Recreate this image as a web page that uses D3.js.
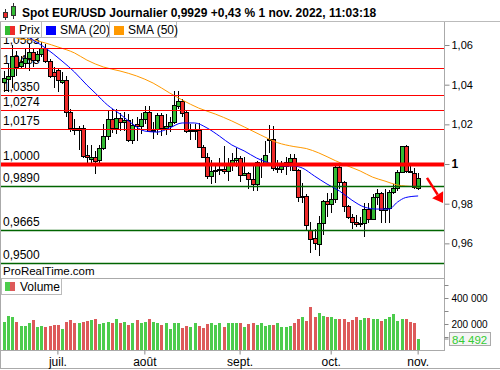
<!DOCTYPE html>
<meta charset="utf-8">
<style>
body { margin: 0; background: #fff; }
svg { display: block; font-family: "Liberation Sans", Arial, sans-serif; }
.lvl { font-size: 12px; fill: #000; }
.priceAxis text { font-size: 11px; fill: #000; }
.volAxis text { font-size: 10px; fill: #000; }
.timeAxis text { font-size: 12px; fill: #000; }
.priceAxis line, .volAxis line, .timeAxis line { stroke: #888; }
</style>
<body>

<script src="https://d3js.org/d3.v7.min.js"></script>
<script>

// daily EUR/USD candles, 14 juin -> 1 nov. 2022 (one value per trading day)
var open  = [1.0412,1.0432,1.0445,1.0545,1.0492,1.0512,1.0535,1.0566,1.0525,1.0555,
             1.0585,1.0520,1.0465,1.0475,1.0415,1.0425,1.0262,1.0180,1.0168,1.0180,
             1.0043,1.0028,1.0036,1.0018,1.0080,1.0140,1.0225,1.0180,1.0230,1.0212,
             1.0220,1.0120,1.0200,1.0192,1.0225,1.0260,1.0165,1.0172,1.0245,1.0180,
             1.0192,1.0210,1.0297,1.0320,1.0262,1.0165,1.0170,1.0174,1.0087,1.0037,
             0.9940,0.9966,0.9970,0.9974,0.9965,1.0003,1.0018,1.0030,0.9945,0.9955,
             0.9925,0.9900,0.9995,1.0002,1.0118,1.0124,0.9976,0.9978,0.9992,1.0012,
             1.0030,0.9970,0.9835,0.9838,0.9668,0.9625,0.9598,0.9702,0.9815,0.9800,
             0.9825,0.9985,0.9910,0.9790,0.9735,0.9710,0.9698,0.9703,0.9775,0.9725,
             0.9835,0.9855,0.9770,0.9778,0.9860,0.9880,0.9960,1.0090,0.9965,0.9955,
             0.9880];
var high  = [1.0468,1.0505,1.0601,1.0570,1.0545,1.0583,1.0606,1.0585,1.0570,1.0615,
             1.0605,1.0530,1.0488,1.0486,1.0462,1.0445,1.0276,1.0225,1.0190,1.0195,
             1.0096,1.0094,1.0068,1.0095,1.0200,1.0270,1.0275,1.0278,1.0255,1.0260,
             1.0250,1.0225,1.0235,1.0255,1.0295,1.0295,1.0210,1.0255,1.0255,1.0250,
             1.0235,1.0370,1.0368,1.0330,1.0270,1.0200,1.0202,1.0205,1.0095,1.0055,
             1.0020,0.9995,1.0030,1.0090,1.0030,1.0055,1.0080,1.0040,1.0035,0.9958,
             0.9990,1.0015,1.0030,1.0115,1.0198,1.0190,1.0020,1.0015,1.0035,1.0050,
             1.0050,0.9975,0.9905,0.9850,0.9710,0.9670,0.9740,0.9820,0.9855,0.9855,
             0.9999,0.9999,0.9912,0.9795,0.9750,0.9745,0.9735,0.9805,0.9805,0.9850,
             0.9875,0.9860,0.9875,0.9870,0.9900,0.9970,1.0093,1.0095,1.0000,0.9980,
             0.9955];
var low   = [1.0362,1.0365,1.0382,1.0445,1.0478,1.0478,1.0470,1.0490,1.0512,1.0542,
             1.0510,1.0435,1.0385,1.0365,1.0402,1.0235,1.0160,1.0145,1.0072,1.0032,
             0.9998,0.9999,0.9952,1.0005,1.0070,1.0120,1.0155,1.0152,1.0165,1.0165,
             1.0110,1.0100,1.0115,1.0150,1.0200,1.0160,1.0125,1.0145,1.0140,1.0145,
             1.0160,1.0200,1.0275,1.0235,1.0155,1.0120,1.0122,1.0085,1.0030,0.9926,
             0.9900,0.9905,0.9945,0.9950,0.9915,0.9965,0.9985,0.9910,0.9940,0.9875,
             0.9865,0.9865,0.9930,0.9995,1.0055,0.9965,0.9955,0.9955,0.9945,0.9965,
             0.9965,0.9810,0.9805,0.9665,0.9550,0.9565,0.9535,0.9640,0.9735,0.9755,
             0.9805,0.9875,0.9760,0.9725,0.9670,0.9685,0.9685,0.9630,0.9705,0.9720,
             0.9795,0.9705,0.9705,0.9705,0.9850,0.9865,0.9955,0.9955,0.9955,0.9872,
             0.9870];
var close = [1.0432,1.0445,1.0545,1.0492,1.0512,1.0535,1.0566,1.0525,1.0555,1.0585,
             1.0520,1.0442,1.0445,1.0425,1.0425,1.0262,1.0180,1.0168,1.0180,1.0040,
             1.0032,1.0036,1.0018,1.0080,1.0140,1.0225,1.0180,1.0230,1.0212,1.0220,
             1.0120,1.0195,1.0192,1.0225,1.0260,1.0165,1.0172,1.0245,1.0180,1.0192,
             1.0210,1.0297,1.0320,1.0262,1.0165,1.0170,1.0174,1.0087,1.0037,0.9940,
             0.9966,0.9970,0.9974,0.9965,1.0003,1.0018,1.0030,0.9945,0.9955,0.9925,
             0.9900,1.0010,1.0002,1.0045,1.0124,0.9980,0.9980,0.9992,1.0012,1.0030,
             0.9970,0.9835,0.9838,0.9690,0.9625,0.9598,0.9702,0.9815,0.9800,0.9825,
             0.9985,0.9910,0.9790,0.9735,0.9710,0.9700,0.9703,0.9775,0.9725,0.9835,
             0.9855,0.9770,0.9778,0.9860,0.9880,0.9960,1.0090,0.9962,0.9960,0.9885,
             0.9929];
var volume = [218000,261000,254000,215000,185000,185000,210000,231000,177000,185000,
              177000,185000,192000,192000,162000,215000,231000,210000,210000,215000,
              223000,231000,238000,203000,210000,215000,210000,238000,208000,215000,
              196000,210000,231000,210000,215000,238000,215000,204000,190000,204000,
              162000,204000,204000,172000,185000,177000,204000,185000,172000,203000,
              208000,196000,204000,177000,208000,208000,208000,204000,177000,200000,
              210000,192000,204000,185000,192000,192000,204000,177000,177000,185000,
              208000,238000,254000,223000,331000,254000,285000,261000,254000,254000,
              238000,238000,238000,215000,231000,254000,231000,246000,246000,238000,
              238000,223000,238000,254000,277000,223000,238000,238000,215000,209000,
              84492];

// moving averages (candle index, value)
var sma20Idx = [0,4,7,10,14,17,20,22,25,28,31,34,37,40,43,46,49,52,55,58,61,64,67,70,72,75,78,81,84,87,90,93,95,97,100];
var sma20    = [1.0701,1.0661,1.0625,1.0585,1.0519,1.0464,1.0398,1.0358,1.0297,1.0252,1.0202,1.0166,1.0161,1.0182,1.0207,1.0207,
                1.0182,1.0141,1.0096,1.0066,1.0030,1.0005,0.9990,0.9990,0.9980,0.9939,0.9899,0.9864,0.9818,0.9783,0.9773,0.9773,
                0.9808,0.9831,0.9839];
var sma50Idx = [0,4,7,10,13,17,20,24,28,32,36,40,43,47,51,55,58,62,66,70,73,76,80,83,86,89,92,95,97,100];
var sma50    = [1.0656,1.0630,1.0625,1.0610,1.0590,1.0560,1.0524,1.0489,1.0469,1.0444,1.0408,1.0358,1.0323,1.0282,1.0252,
                1.0217,1.0187,1.0146,1.0108,1.0088,1.0078,1.0056,1.0017,0.9990,0.9965,0.9934,0.9914,0.9894,0.9889,0.9884];

// horizontal levels
var resistances = [1.0583, 1.0483, 1.0350, 1.0274, 1.0175];
var pivot = 1.0000;
var supports = [0.9890, 0.9665, 0.9500];

var priceTicks = [0.96, 0.98, 1, 1.02, 1.04, 1.06];
var volTicks = [100000, 200000, 300000, 400000, 500000];
var volLabels = [200000, 400000];
var monthNames = ["janv.","févr.","mars","avr.","mai","juin","juil.","août","sept.","oct.","nov.","déc."];
var titleText = "Spot EUR/USD Journalier 0,9929 +0,43 % 1 nov. 2022, 11:03:18";

var green = "#33bb33", red = "#ee2a2a";
var volGreen = "#4ccc4c", volRed = "#dd5a5a";

// trading days (categories)
var fmtKey = d3.timeFormat("%Y-%m-%d");
var days = d3.timeDay.range(new Date(2022, 5, 14), new Date(2022, 10, 2))
    .filter(function(d) { return d.getDay() !== 0 && d.getDay() !== 6; });
var keys = days.map(fmtKey);

var data = keys.map(function(k, i) {
  return {key: k, date: days[i], o: open[i], h: high[i], l: low[i], c: close[i], v: volume[i]};
});

// layout
var axisX = 444.5,
    priceTop = 22, priceBottom = 278.5,
    volBottom = 350.5;

var x = d3.scaleBand().domain(keys).range([2, 420.2]);
var bw = x.bandwidth();
function cx(k) { return Math.round(x(k) + bw / 2); }

var y = d3.scaleLinear().domain([0.95, 1.06]).range([263.2, 45]);
var yVol = d3.scaleLinear().domain([0, 500000]).range([350, 285]);

var svg = d3.select("body").append("svg")
    .attr("width", 500)
    .attr("height", 370);

svg.append("defs").append("clipPath").attr("id", "plotClip")
  .append("rect").attr("x", 1).attr("y", priceTop).attr("width", axisX - 1).attr("height", priceBottom - priceTop);

// ---- title bar
var icon = svg.append("g").attr("shape-rendering", "crispEdges");
icon.append("line").attr("x1", 5.5).attr("x2", 5.5).attr("y1", 9).attr("y2", 20).attr("stroke", "#333");
icon.append("rect").attr("x", 3.5).attr("y", 12.5).attr("width", 4).attr("height", 5).attr("fill", red).attr("stroke", "#333");
icon.append("line").attr("x1", 13.5).attr("x2", 13.5).attr("y1", 3).attr("y2", 19).attr("stroke", "#333");
icon.append("rect").attr("x", 11.5).attr("y", 6.5).attr("width", 4).attr("height", 9).attr("fill", green).attr("stroke", "#333");

svg.append("text")
    .attr("x", 22).attr("y", 17)
    .style("font-size", "12px").style("font-weight", "bold")
    .text(titleText);

svg.append("line").attr("x1", 0).attr("x2", 500).attr("y1", 21.5).attr("y2", 21.5)
    .attr("stroke", "#bbb");

// ---- price panel
var plot = svg.append("g").attr("clip-path", "url(#plotClip)");

// level labels (under candles)
var levels = resistances.map(function(v) { return {v: v, type: "r"}; })
    .concat([{v: pivot, type: "p"}])
    .concat(supports.map(function(v) { return {v: v, type: "s"}; }));

plot.selectAll(".lvl").data(levels).join("text")
    .attr("class", "lvl")
    .attr("x", 3)
    .attr("y", function(d) { return Math.round(y(d.v)) - 4; })
    .text(function(d) { return d.v.toFixed(4).replace(".", ","); });

plot.append("text")
    .attr("x", 3).attr("y", 275)
    .style("font-size", "11.5px")
    .text("ProRealTime.com");

// candles
var candles = plot.append("g").attr("shape-rendering", "crispEdges");

candles.selectAll(".wick").data(data).join("line")
    .attr("class", "wick")
    .attr("x1", function(d) { return cx(d.key) + 0.5; })
    .attr("x2", function(d) { return cx(d.key) + 0.5; })
    .attr("y1", function(d) { return y(d.h); })
    .attr("y2", function(d) { return y(d.l); })
    .attr("stroke", "#000");

candles.selectAll(".body").data(data).join("rect")
    .attr("class", "body")
    .attr("x", function(d) { return cx(d.key) - 1.5; })
    .attr("width", 4)
    .attr("y", function(d) { return Math.round(y(Math.max(d.o, d.c))) + 0.5; })
    .attr("height", function(d) { return Math.round(Math.abs(y(d.o) - y(d.c))); })
    .attr("fill", function(d) { return d.c >= d.o ? green : red; })
    .attr("stroke", "#000");

// moving averages
var smaLine = d3.line()
    .x(function(d) { return x(keys[d[0]]) + bw / 2; })
    .y(function(d) { return y(d[1]); })
    .curve(d3.curveMonotoneX);

plot.append("path")
    .datum(d3.zip(sma50Idx, sma50))
    .attr("fill", "none").attr("stroke", "#ff9900").attr("stroke-width", 1)
    .attr("d", smaLine);

plot.append("path")
    .datum(d3.zip(sma20Idx, sma20))
    .attr("fill", "none").attr("stroke", "#0000ff").attr("stroke-width", 1)
    .attr("d", smaLine);

// level lines on top
plot.selectAll(".lvlLine").data(levels).join("line")
    .attr("class", "lvlLine")
    .attr("x1", 1).attr("x2", axisX)
    .attr("y1", function(d) { return Math.round(y(d.v)) + 0.5; })
    .attr("y2", function(d) { return Math.round(y(d.v)) + 0.5; })
    .attr("stroke", function(d) { return d.type === "s" ? "#006400" : "#ff0000"; })
    .attr("stroke-width", function(d) { return d.type === "p" ? 4 : (d.type === "s" ? 1.5 : 1.2); });

// red arrow
var last = data[data.length - 1];
var ax0 = cx(last.key) + 9, ay0 = y(0.9930),
    ax1 = cx(last.key) + 25, ay1 = y(0.9803);
var dx = ax1 - ax0, dy = ay1 - ay0, len = Math.sqrt(dx * dx + dy * dy);
var ux = dx / len, uy = dy / len;
var bx = ax1 - ux * 10, by = ay1 - uy * 10;
svg.append("line")
    .attr("x1", ax0).attr("y1", ay0).attr("x2", bx).attr("y2", by)
    .attr("stroke", "#ff0000").attr("stroke-width", 2.5);
svg.append("path")
    .attr("d", "M" + ax1 + "," + ay1 +
               "L" + (bx - uy * 6.5) + "," + (by + ux * 6.5) +
               "L" + (bx + uy * 6.5) + "," + (by - ux * 6.5) + "Z")
    .attr("fill", "#ff0000");

// price axis
var priceAxis = svg.append("g")
    .attr("class", "priceAxis")
    .attr("transform", "translate(" + axisX + ",0)")
    .call(d3.axisRight(y).tickValues(priceTicks).tickSize(5).tickPadding(2)
      .tickFormat(function(d) { return d === 1 ? "1" : d3.format(".2f")(d).replace(".", ","); }));
priceAxis.select(".domain").remove();
priceAxis.selectAll("text")
    .filter(function(d) { return d === 1; })
    .style("font-weight", "bold").style("font-size", "12px");

// legend boxes
var legend = svg.append("g").attr("shape-rendering", "crispEdges");
var legendItems = [
  {label: "Prix", x: 0, w: 41, colors: [green, red]},
  {label: "SMA (20)", x: 41, w: 68, colors: ["#0000ff"]},
  {label: "SMA (50)", x: 109, w: 67, colors: ["#ff9900"]}
];
legendItems.forEach(function(it) {
  legend.append("rect")
      .attr("x", it.x + 0.5).attr("y", 21.5).attr("width", it.w).attr("height", 16)
      .attr("fill", "#fff").attr("stroke", "#bbb");
  it.colors.forEach(function(c, j) {
    var sw = 10 / it.colors.length;
    legend.append("rect")
        .attr("x", it.x + 5 + j * sw).attr("y", 26).attr("width", sw).attr("height", 9)
        .attr("fill", c);
  });
  legend.append("text")
      .attr("x", it.x + 19).attr("y", 34)
      .style("font-size", "12px")
      .text(it.label);
});

// ---- volume panel
var frame = svg.append("g").attr("shape-rendering", "crispEdges");
frame.append("line").attr("x1", 0).attr("x2", axisX).attr("y1", priceBottom).attr("y2", priceBottom).attr("stroke", "#aaa");
frame.append("line").attr("x1", 0).attr("x2", axisX).attr("y1", volBottom).attr("y2", volBottom).attr("stroke", "#aaa");
frame.append("line").attr("x1", axisX).attr("x2", axisX).attr("y1", priceTop).attr("y2", volBottom).attr("stroke", "#aaa");
frame.append("line").attr("x1", 0.5).attr("x2", 0.5).attr("y1", priceTop).attr("y2", 368.5).attr("stroke", "#aaa");
frame.append("line").attr("x1", 0).attr("x2", 500).attr("y1", 368.5).attr("y2", 368.5).attr("stroke", "#aaa");

svg.append("g").attr("shape-rendering", "crispEdges")
  .selectAll(".vol").data(data).join("rect")
    .attr("class", "vol")
    .attr("x", function(d) { return cx(d.key) - 1; })
    .attr("width", 3)
    .attr("y", function(d) { return Math.round(yVol(d.v)); })
    .attr("height", function(d) { return 350 - Math.round(yVol(d.v)); })
    .attr("fill", function(d) { return d.c >= d.o ? volGreen : volRed; });

var volLegend = svg.append("g").attr("shape-rendering", "crispEdges");
volLegend.append("rect").attr("x", 1.5).attr("y", 278.5).attr("width", 60).attr("height", 16)
    .attr("fill", "#fff").attr("stroke", "#bbb");
volLegend.append("rect").attr("x", 5).attr("y", 282).attr("width", 5).attr("height", 9).attr("fill", volGreen);
volLegend.append("rect").attr("x", 10).attr("y", 282).attr("width", 5).attr("height", 9).attr("fill", volRed);
volLegend.append("text").attr("x", 20).attr("y", 291).style("font-size", "12px").text("Volume");

var volAxis = svg.append("g")
    .attr("class", "volAxis")
    .attr("transform", "translate(" + axisX + ",0)")
    .call(d3.axisRight(yVol).tickValues(volTicks).tickSize(4).tickPadding(3)
      .tickFormat(function(d) { return volLabels.indexOf(d) >= 0 ? d3.format(",")(d).replace(/,/g, " ") : ""; }));
volAxis.select(".domain").remove();

// last volume box
var lastY = yVol(last.v);
svg.append("line").attr("x1", axisX).attr("x2", axisX + 4).attr("y1", lastY).attr("y2", lastY).attr("stroke", "#888");
svg.append("rect").attr("x", 449.5).attr("y", Math.round(lastY) - 6.5).attr("width", 41).attr("height", 13)
    .attr("fill", "#f4f4f4").attr("stroke", "#aaa").attr("shape-rendering", "crispEdges");
svg.append("text").attr("x", 452).attr("y", Math.round(lastY) + 4.5)
    .style("font-size", "11.5px").attr("fill", "#33cc33")
    .text(d3.format(",")(last.v).replace(/,/g, " "));

// time axis
var monthStarts = keys.filter(function(k, i) {
  return i > 0 && days[i].getMonth() !== days[i - 1].getMonth();
});
var timeAxis = svg.append("g")
    .attr("class", "timeAxis")
    .attr("transform", "translate(0," + volBottom + ")")
    .call(d3.axisBottom(x).tickValues(monthStarts).tickSize(4).tickPadding(3)
      .tickFormat(function(k) { return monthNames[days[keys.indexOf(k)].getMonth()]; }));
timeAxis.select(".domain").remove();

</script>
</body>
